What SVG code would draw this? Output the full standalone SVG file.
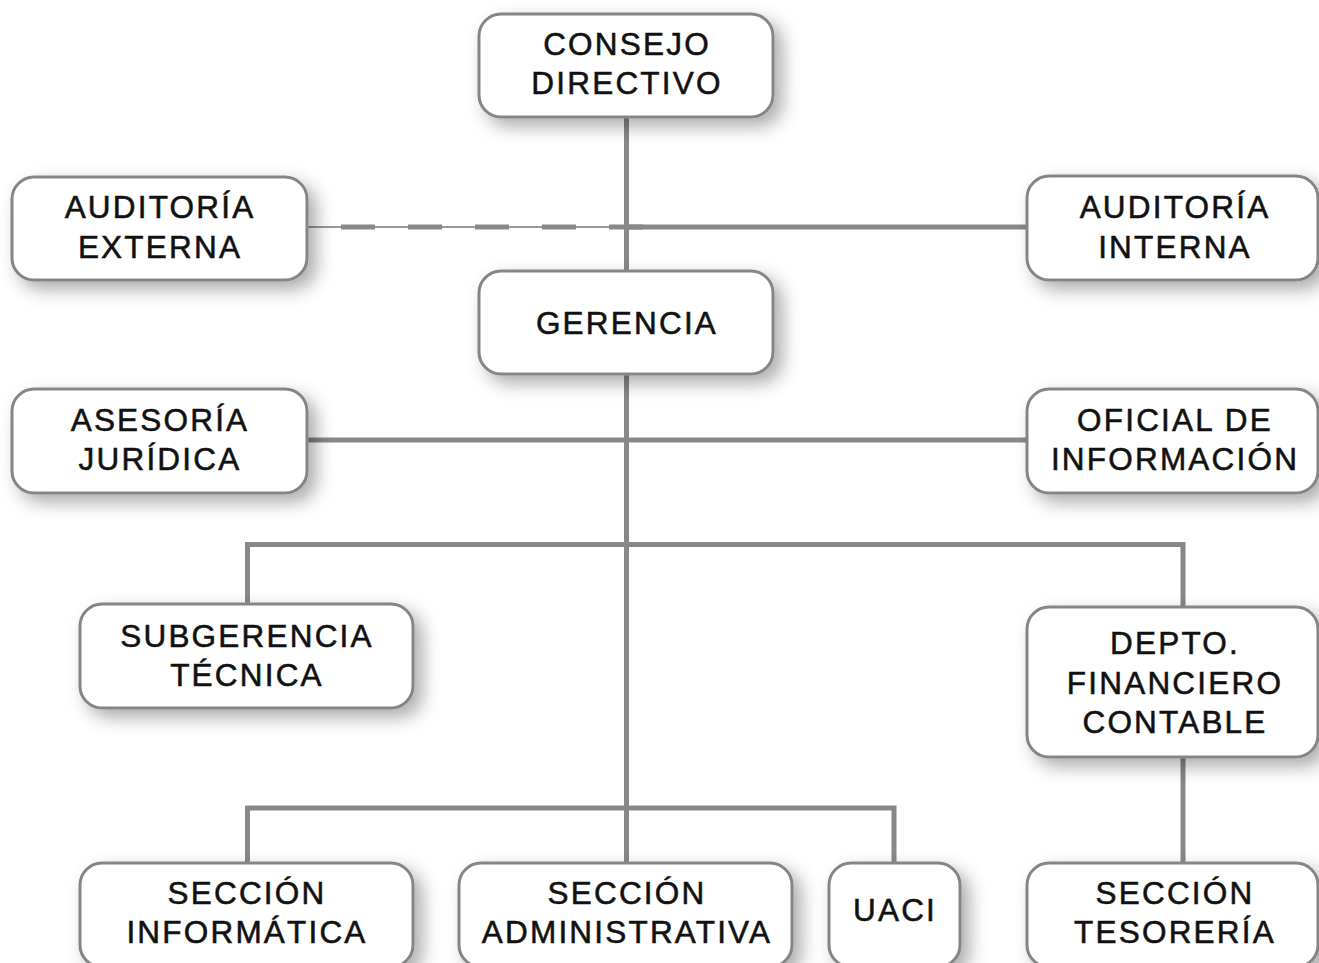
<svg xmlns="http://www.w3.org/2000/svg" width="1319" height="963" viewBox="0 0 1319 963">
<defs>
<filter id="sh" x="-20%" y="-30%" width="150%" height="180%">
<feDropShadow dx="8" dy="8" stdDeviation="9" flood-color="#000" flood-opacity="0.33"/>
</filter>
<style>
.box{fill:#fff;stroke:#858585;stroke-width:3;filter:url(#sh)}
.t{font-family:"Liberation Sans",Arial,sans-serif;font-size:31.5px;letter-spacing:2.2px;fill:#111;stroke:#111;stroke-width:0.55;text-anchor:middle}
.c{fill:none;stroke:#888;stroke-width:5}
.thin{fill:none;stroke:#999;stroke-width:2}
.dash{fill:none;stroke:#888;stroke-width:5;stroke-dasharray:34 33}
</style>
</defs>
<rect width="1319" height="963" fill="#fff"/>
<g id="connectors">
<path class="c" d="M626.5 117V808"/>
<path class="thin" d="M307 227H626"/>
<path class="dash" d="M341 227H645"/>
<path class="c" d="M626 227H1027"/>
<path class="c" d="M307 440H1027"/>
<path class="c" d="M247.5 604V544.5H1183V607"/>
<path class="c" d="M1183 757V863"/>
<path class="c" d="M247.5 863V808H894V863"/>
<path class="c" d="M626.5 808V863"/>
</g>
<g id="consejo"><rect class="box" x="479" y="14" width="294" height="103" rx="22"/><text class="t" x="627" y="55">CONSEJO</text><text class="t" x="627" y="94">DIRECTIVO</text></g>
<g id="aud-externa"><rect class="box" x="12" y="177" width="295" height="103" rx="22"/><text class="t" x="160" y="218">AUDITORÍA</text><text class="t" x="160" y="258">EXTERNA</text></g>
<g id="aud-interna"><rect class="box" x="1027" y="176" width="291" height="104" rx="22"/><text class="t" x="1175" y="218">AUDITORÍA</text><text class="t" x="1175" y="258">INTERNA</text></g>
<g id="gerencia"><rect class="box" x="479" y="271" width="294" height="103" rx="22"/><text class="t" x="627" y="334">GERENCIA</text></g>
<g id="asesoria"><rect class="box" x="12" y="389" width="295" height="104" rx="22"/><text class="t" x="160" y="431">ASESORÍA</text><text class="t" x="160" y="470">JURÍDICA</text></g>
<g id="oficial"><rect class="box" x="1027" y="389" width="291" height="104" rx="22"/><text class="t" x="1175" y="431">OFICIAL DE</text><text class="t" x="1175" y="470">INFORMACIÓN</text></g>
<g id="subgerencia"><rect class="box" x="80" y="604" width="333" height="104" rx="22"/><text class="t" x="247" y="647">SUBGERENCIA</text><text class="t" x="247" y="686">TÉCNICA</text></g>
<g id="depto"><rect class="box" x="1027" y="607" width="291" height="150" rx="22"/><text class="t" x="1175" y="654">DEPTO.</text><text class="t" x="1175" y="694">FINANCIERO</text><text class="t" x="1175" y="733">CONTABLE</text></g>
<g id="sec-informatica"><rect class="box" x="80" y="863" width="333" height="104" rx="22"/><text class="t" x="247" y="904">SECCIÓN</text><text class="t" x="247" y="943">INFORMÁTICA</text></g>
<g id="sec-administrativa"><rect class="box" x="459" y="863" width="333" height="104" rx="22"/><text class="t" x="627" y="904">SECCIÓN</text><text class="t" x="627" y="943">ADMINISTRATIVA</text></g>
<g id="uaci"><rect class="box" x="829" y="863" width="131" height="104" rx="22"/><text class="t" x="895" y="921">UACI</text></g>
<g id="sec-tesoreria"><rect class="box" x="1027" y="863" width="291" height="104" rx="22"/><text class="t" x="1175" y="904">SECCIÓN</text><text class="t" x="1175" y="943">TESORERÍA</text></g>
</svg>
